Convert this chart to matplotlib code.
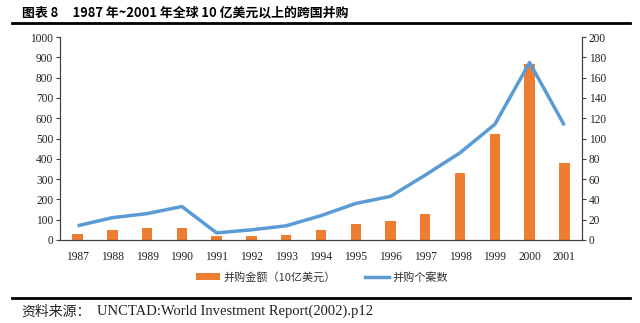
import matplotlib
matplotlib.use("Agg")
import matplotlib.pyplot as plt
from matplotlib.lines import Line2D
from matplotlib.patches import Patch

years = ["1987", "1988", "1989", "1990", "1991", "1992", "1993", "1994",
         "1995", "1996", "1997", "1998", "1999", "2000", "2001"]
amount = [30.0, 49.6, 59.5, 60.9, 20.4, 21.3, 23.5, 50.9, 80.4, 94.0,
          129.2, 329.7, 522.0, 866.2, 378.1]
deals = [14, 22, 26, 33, 7, 10, 14, 24, 36, 43, 64, 86, 114, 175, 113]
left_ticks = list(range(0, 1001, 100))
right_ticks = list(range(0, 201, 20))

ORANGE = "#ED7D31"
BLUE = "#5B9BD5"
CJK = ["Noto Sans CJK SC", "DejaVu Sans"]
SERIF = ["Liberation Serif", "Noto Sans CJK SC"]

fig = plt.figure(figsize=(6.4, 3.23), dpi=100)
ax = fig.add_axes([0.094, 0.257, 0.815, 0.628])
x = list(range(len(years)))
ax.bar(x, amount, width=0.3, color=ORANGE, zorder=2)
ax.set_ylim(0, 1000)
ax.set_xlim(-0.5, len(years) - 0.5)
ax.set_yticks(left_ticks)
ax.set_xticks(x)
ax.set_xticklabels(years)

ax2 = ax.twinx()
ax2.plot(x, deals, color=BLUE, linewidth=2.5, solid_capstyle="butt", zorder=3)
ax2.set_ylim(0, 200)
ax2.set_yticks(right_ticks)

for a in (ax, ax2):
    a.spines["top"].set_visible(False)
    for s in ("left", "right", "bottom"):
        a.spines[s].set_color("#404040")
        a.spines[s].set_linewidth(0.8)
    for lab in a.get_yticklabels() + a.get_xticklabels():
        lab.set_family(SERIF)
        lab.set_fontsize(8.3)
        lab.set_color("#222222")
ax.tick_params(axis="y", direction="out", length=3, width=0.8, color="#404040", pad=2)
ax2.tick_params(axis="y", direction="out", length=3, width=0.8, color="#404040", pad=2)
ax.tick_params(axis="x", length=0, pad=8)

handles = [Patch(facecolor=ORANGE, edgecolor="none"),
           Line2D([0], [0], color=BLUE, linewidth=2.5)]
labels = ["并购金额（10亿美元）", "并购个案数"]
leg = fig.legend(handles, labels, loc="center", bbox_to_anchor=(0.503, 0.142), ncol=2,
                 frameon=False, prop={"family": CJK, "size": 8},
                 handlelength=2.2, handleheight=0.6, columnspacing=2.6, handletextpad=0.3)
for t in leg.get_texts():
    t.set_color("#333333")

fig.text(0.034, 0.962, "图表 8     1987 年~2001 年全球 10 亿美元以上的跨国并购",
         fontsize=9.3, fontweight="bold", family=CJK, va="center", ha="left")
fig.add_artist(Line2D([0.019, 0.985], [0.929, 0.929], color="black", linewidth=2,
                      transform=fig.transFigure))
fig.add_artist(Line2D([0.019, 0.985], [0.078, 0.078], color="black", linewidth=2,
                      transform=fig.transFigure))
fig.text(0.034, 0.035, "资料来源：", fontsize=10, family=CJK, va="center", ha="left", color="#222222")
fig.text(0.152, 0.035, "UNCTAD:World Investment Report(2002).p12", fontsize=10.5,
         family=SERIF, va="center", ha="left", color="#222222")

fig.savefig("out.png", dpi=100)
